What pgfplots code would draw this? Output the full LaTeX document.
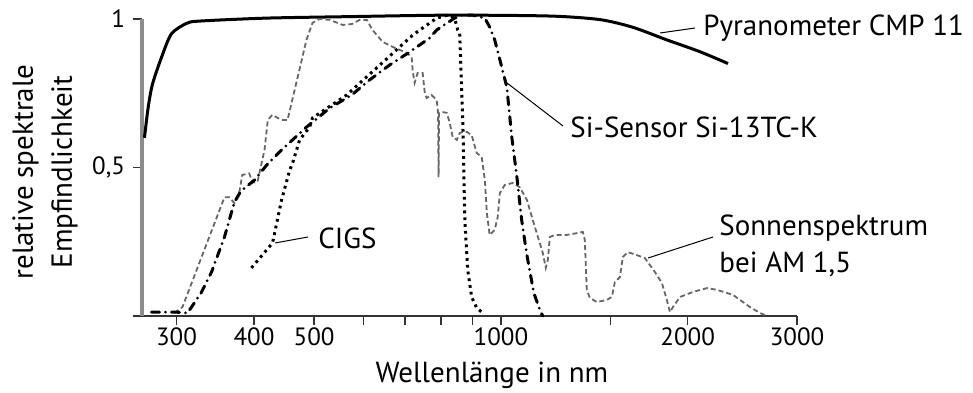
\documentclass[border=0pt]{standalone}
\usepackage{fontspec}
\setmainfont{PT Sans}
\usepackage{pgfplots}
\usepackage{pgfplotstable}
\pgfplotsset{compat=1.18}

% relative spectral sensitivity, wavelength in nm
\pgfplotstableread{
x y
266.4 0.60
270.0 0.70
274.4 0.78
283.7 0.87
294.4 0.95
311.3 0.985
326.7 0.993
419 1.003
570 1.008
826 1.013
1198 1.010
1443 0.998
1632 0.972
1849 0.93
2092 0.89
2322 0.85
}\pyranometer

\pgfplotstableread{
x y
273.4 0.013
300 0.013
312.5 0.010
328.6 0.077
341.7 0.148
358.5 0.266
372 0.384
381 0.42
400.8 0.458
419.2 0.508
443 0.559
486 0.636
529.6 0.70
574.7 0.744
614.4 0.795
661.6 0.845
712.8 0.889
767.6 0.936
788 0.963
842 1.003
864.6 1.013
900 1.013
941.8 1.003
959 0.973
977 0.93
1003 0.838
1022 0.771
1041 0.603
1060 0.475
1080 0.323
1101 0.205
1130 0.077
1159 0.013
1168 0.0
}\sisensor

\pgfplotstableread{
x y
396.3 0.162
428.5 0.246
443 0.39
456.5 0.49
461.6 0.515
473.8 0.593
491.6 0.636
497 0.667
564 0.744
638 0.845
721 0.946
788 1.003
820 1.013
842 1.003
852 0.963
858 0.953
868 0.66
874.5 0.323
884 0.155
897 0.064
914 0.027
935 0.010
}\cigs

\pgfplotstableread{
x y
297.8 0.01
306.7 0.03
358.5 0.40
365 0.40
372 0.38
379 0.42
383 0.475
393 0.48
398 0.45
405 0.45
411 0.51
416 0.56
421 0.66
428 0.677
443 0.66
453 0.66
468 0.785
486 0.93
497 0.987
510 1.0
530 0.997
556 0.98
575 0.983
592 0.997
608 0.997
621 0.963
645 0.923
669 0.906
705 0.886
718 0.872
721 0.822
726 0.785
734 0.818
748 0.818
754 0.751
759 0.734
773 0.744
788 0.727
792 0.684
793.5 0.468
795 0.684
803 0.687
818 0.684
827 0.65
836 0.603
849 0.593
858 0.616
868 0.620
881 0.62
897 0.609
914 0.549
931 0.535
942 0.458
949 0.347
959 0.273
977 0.29
988 0.333
996 0.414
1014 0.441
1045 0.448
1072 0.434
1101 0.391
1113 0.357
1142 0.279
1168 0.212
1181 0.162
1190 0.189
1199 0.266
1221 0.273
1277 0.273
1325 0.279
1355 0.283
1365 0.256
1375 0.088
1391 0.061
1427 0.047
1481 0.054
1509 0.064
1526 0.114
1555 0.131
1572 0.199
1602 0.215
1656 0.205
1706 0.195
1771 0.148
1817 0.111
1851 0.054
1872 0.013
1893 0.03
1943 0.064
2039 0.081
2148 0.094
2229 0.088
2366 0.071
2520 0.03
2615 0.01
2664 0.003
}\sonne

\begin{document}
\begin{tikzpicture}[x=1pt,y=1pt,
  every node/.style={font=\fontsize{14.5}{17}\selectfont}]
\path[use as bounding box] (-71,-38) rectangle (415.5,158);
\begin{axis}[
  at={(0,0)}, anchor=south west,
  scale only axis, width=327.5pt, height=148.5pt,
  xmode=log, xmin=264, xmax=3000, ymin=0, ymax=1,
  axis x line=bottom, axis y line=left,
  x axis line style={-, draw=black!80, line width=1pt, shorten <=-4.5pt},
  y axis line style={-, draw=black!45, line width=1.8pt},
  clip=false,
  xtick={300,400,500,600,700,800,900,1000,1500,2000,3000},
  xticklabels={300,400,500,,,,,1000,,2000,3000},
  minor x tick style={draw=none},
  ytick={0.5,1}, yticklabels={{0,5},1},
  tick align=outside, major tick length=4.3pt,
  every tick/.style={black!80, line width=0.7pt},
  tick label style={font=\fontsize{12.5}{15}\selectfont, inner sep=0pt},
  xticklabel style={anchor=north, yshift=-1.5pt},
  yticklabel style={anchor=east, xshift=-4pt},
]
\addplot[black, line width=1.5pt, smooth, tension=0.45] table {\pyranometer};
\addplot[black!60, line width=0.9pt, dash pattern=on 2.5pt off 1.5pt] table {\sonne};
\addplot[black, line width=1.5pt, line cap=round, dash pattern=on 4pt off 3pt on 0pt off 3pt] table {\sisensor};
\addplot[black, line width=1.5pt, dash pattern=on 1.4pt off 2pt] table {\cigs};
\end{axis}

% labels with leader lines
\draw[line width=0.5pt] (259,141.5) -- (276.5,144);
\node[anchor=base west, inner sep=0pt] at (280.5,140.5) {Pyranometer CMP 11};
\draw[line width=0.5pt] (182.5,116.5) -- (210.5,95);
\node[anchor=base west, inner sep=0pt] at (214,89.5) {Si-Sensor Si-13TC-K};
\draw[line width=0.5pt] (66.5,36.5) -- (83,39.5);
\node[anchor=base west, inner sep=0pt] at (88,34) {CIGS};
\draw[line width=0.5pt] (253,29) -- (285.5,39.5);
\node[anchor=base west, inner sep=0pt] at (288.5,40.5) {Sonnenspektrum};
\node[anchor=base west, inner sep=0pt] at (288.5,22) {bei AM 1,5};
% axis titles
\node[anchor=base, inner sep=0pt] at (175,-33) {Wellenlänge in nm};
\node[anchor=base, inner sep=0pt, rotate=90] at (-54.5,72) {relative spektrale};
\node[anchor=base, inner sep=0pt, rotate=90] at (-35,72) {Empfindlichkeit};
\end{tikzpicture}
\end{document}
